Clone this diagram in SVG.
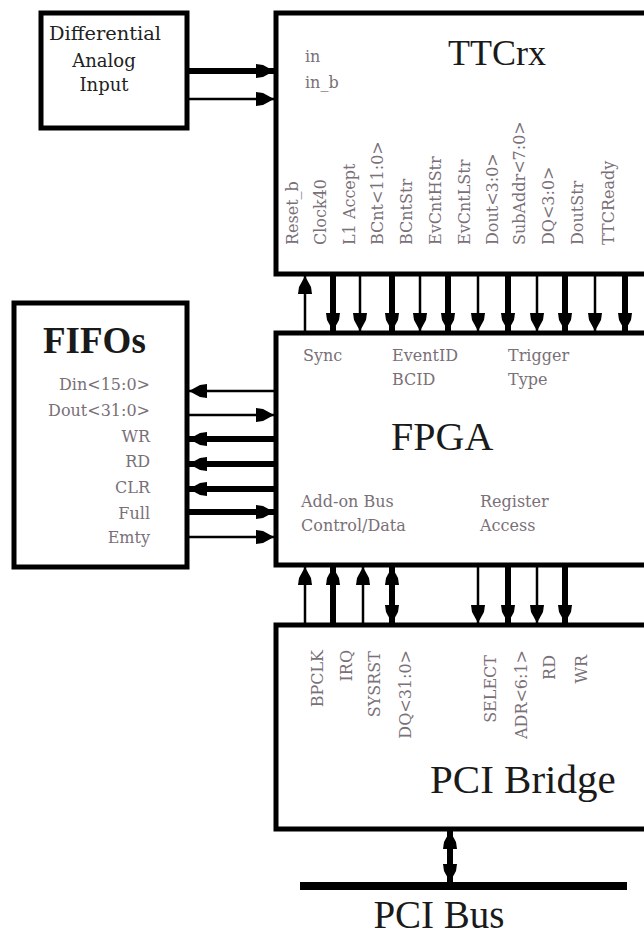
<svg xmlns="http://www.w3.org/2000/svg" width="644" height="938" viewBox="0 0 644 938">
<defs>
<marker id="ah" viewBox="0 0 18 14" refX="18" refY="7" markerWidth="18" markerHeight="14" orient="auto-start-reverse" markerUnits="userSpaceOnUse"><path d="M0,0 L7,1 L18,7 L7,13 L0,14 z" fill="#000"/></marker>
</defs>
<style>
.box{fill:#fff;stroke:#000;stroke-width:5}
.t{font-family:"Liberation Serif","Times New Roman",serif;fill:#1a1a1a}
.s{font-family:"DejaVu Serif","Liberation Serif",serif;fill:#7a7078;font-size:16px}
.v{font-family:"DejaVu Serif","Liberation Serif",serif;fill:#7a7078;font-size:16px}
.w{stroke:#000;stroke-width:6;fill:none}
.n{stroke:#000;stroke-width:2.5;fill:none}
.a{marker-end:url(#ah)}
.d{marker-start:url(#ah);marker-end:url(#ah)}
</style>
<rect width="644" height="938" fill="#fff"/>
<g id="analog">
<rect class="box" x="41" y="13" width="146" height="115"/>
<g font-family="DejaVu Serif, Liberation Serif, serif" font-size="18" fill="#222" text-anchor="middle">
<text x="105" y="40" textLength="112" lengthAdjust="spacingAndGlyphs">Differential</text>
<text x="104" y="67">Analog</text>
<text x="104" y="91">Input</text>
</g>
</g>
<g id="ttcrx">
<rect class="box" x="276" y="13" width="380" height="261"/>
<text class="t" x="497" y="65" font-size="36" text-anchor="middle">TTCrx</text>
<text class="s" x="305" y="62" font-size="17">in</text>
<text class="s" x="305" y="88" font-size="17">in_b</text>
<g class="v">
<text transform="translate(298,245) rotate(-90)">Reset_b</text>
<text transform="translate(326,245) rotate(-90)">Clock40</text>
<text transform="translate(355,245) rotate(-90)">L1 Accept</text>
<text transform="translate(383,245) rotate(-90)">BCnt&lt;11:0&gt;</text>
<text transform="translate(412,245) rotate(-90)">BCntStr</text>
<text transform="translate(441,245) rotate(-90)">EvCntHStr</text>
<text transform="translate(470,245) rotate(-90)">EvCntLStr</text>
<text transform="translate(498,245) rotate(-90)">Dout&lt;3:0&gt;</text>
<text transform="translate(525,245) rotate(-90)">SubAddr&lt;7:0&gt;</text>
<text transform="translate(554,245) rotate(-90)">DQ&lt;3:0&gt;</text>
<text transform="translate(583,245) rotate(-90)">DoutStr</text>
<text transform="translate(614,245) rotate(-90)">TTCReady</text>
</g>
</g>
<g id="fifos">
<rect class="box" x="14" y="303" width="173" height="264"/>
<text class="t" x="43" y="353" font-size="37" font-weight="bold">FIFOs</text>
<g class="s" text-anchor="end">
<text x="150" y="390">Din&lt;15:0&gt;</text>
<text x="150" y="416">Dout&lt;31:0&gt;</text>
<text x="150" y="442">WR</text>
<text x="150" y="467">RD</text>
<text x="150" y="493">CLR</text>
<text x="150" y="519">Full</text>
<text x="150" y="543">Emty</text>
</g>
</g>
<g id="fpga">
<rect class="box" x="276" y="333" width="380" height="232"/>
<g class="s">
<text x="303" y="361">Sync</text>
<text x="392" y="361">EventID</text>
<text x="392" y="385">BCID</text>
<text x="508" y="361">Trigger</text>
<text x="508" y="385">Type</text>
<text x="301" y="507">Add-on Bus</text>
<text x="301" y="531">Control/Data</text>
<text x="480" y="507">Register</text>
<text x="480" y="531">Access</text>
</g>
<text class="t" x="391" y="450" font-size="40">FPGA</text>
</g>
<g id="pcibridge">
<rect class="box" x="276" y="625" width="380" height="204"/>
<g class="v" text-anchor="end">
<text transform="translate(323,650) rotate(-90)">BPCLK</text>
<text transform="translate(352,650) rotate(-90)">IRQ</text>
<text transform="translate(380,651) rotate(-90)">SYSRST</text>
<text transform="translate(411,650) rotate(-90)">DQ&lt;31:0&gt;</text>
<text transform="translate(496,655) rotate(-90)">SELECT</text>
<text transform="translate(527,650) rotate(-90)">ADR&lt;6:1&gt;</text>
<text transform="translate(555,655) rotate(-90)">RD</text>
<text transform="translate(587,655) rotate(-90)">WR</text>
</g>
<text class="t" x="430" y="793" font-size="41">PCI Bridge</text>
</g>
<g id="pcibus">
<line x1="300" y1="886" x2="627" y2="886" stroke="#000" stroke-width="8"/>
<text class="t" x="439" y="928" font-size="39" text-anchor="middle">PCI Bus</text>
</g>
<g id="connectors">
<line class="w a" x1="187" y1="71" x2="274" y2="71"/>
<line class="n a" x1="187" y1="99" x2="274" y2="99"/>
<line class="n a" x1="305" y1="331" x2="305" y2="276"/>
<line class="w a" x1="333" y1="276" x2="333" y2="331"/>
<line class="n a" x1="360" y1="276" x2="360" y2="331"/>
<line class="w a" x1="392" y1="276" x2="392" y2="331"/>
<line class="n a" x1="420" y1="276" x2="420" y2="331"/>
<line class="w a" x1="448" y1="276" x2="448" y2="331"/>
<line class="n a" x1="478" y1="276" x2="478" y2="331"/>
<line class="w a" x1="508" y1="276" x2="508" y2="331"/>
<line class="n a" x1="537" y1="276" x2="537" y2="331"/>
<line class="w a" x1="565" y1="276" x2="565" y2="331"/>
<line class="n a" x1="595" y1="276" x2="595" y2="331"/>
<line class="w a" x1="625" y1="276" x2="625" y2="331"/>
<line class="n a" x1="274" y1="391" x2="189" y2="391"/>
<line class="n a" x1="189" y1="415" x2="274" y2="415"/>
<line class="w a" x1="274" y1="439" x2="189" y2="439"/>
<line class="w a" x1="274" y1="464" x2="189" y2="464"/>
<line class="w a" x1="274" y1="489" x2="189" y2="489"/>
<line class="w a" x1="189" y1="512" x2="274" y2="512"/>
<line class="n a" x1="189" y1="537" x2="274" y2="537"/>
<line class="n a" x1="305" y1="623" x2="305" y2="567"/>
<line class="w a" x1="333" y1="623" x2="333" y2="567"/>
<line class="n a" x1="363" y1="623" x2="363" y2="567"/>
<line class="w d" x1="392" y1="567" x2="392" y2="623"/>
<line class="n a" x1="478" y1="567" x2="478" y2="623"/>
<line class="w a" x1="508" y1="567" x2="508" y2="623"/>
<line class="n a" x1="537" y1="567" x2="537" y2="623"/>
<line class="w a" x1="565" y1="567" x2="565" y2="623"/>
<line class="w d" x1="450" y1="831" x2="450" y2="882"/>
</g>
</svg>
